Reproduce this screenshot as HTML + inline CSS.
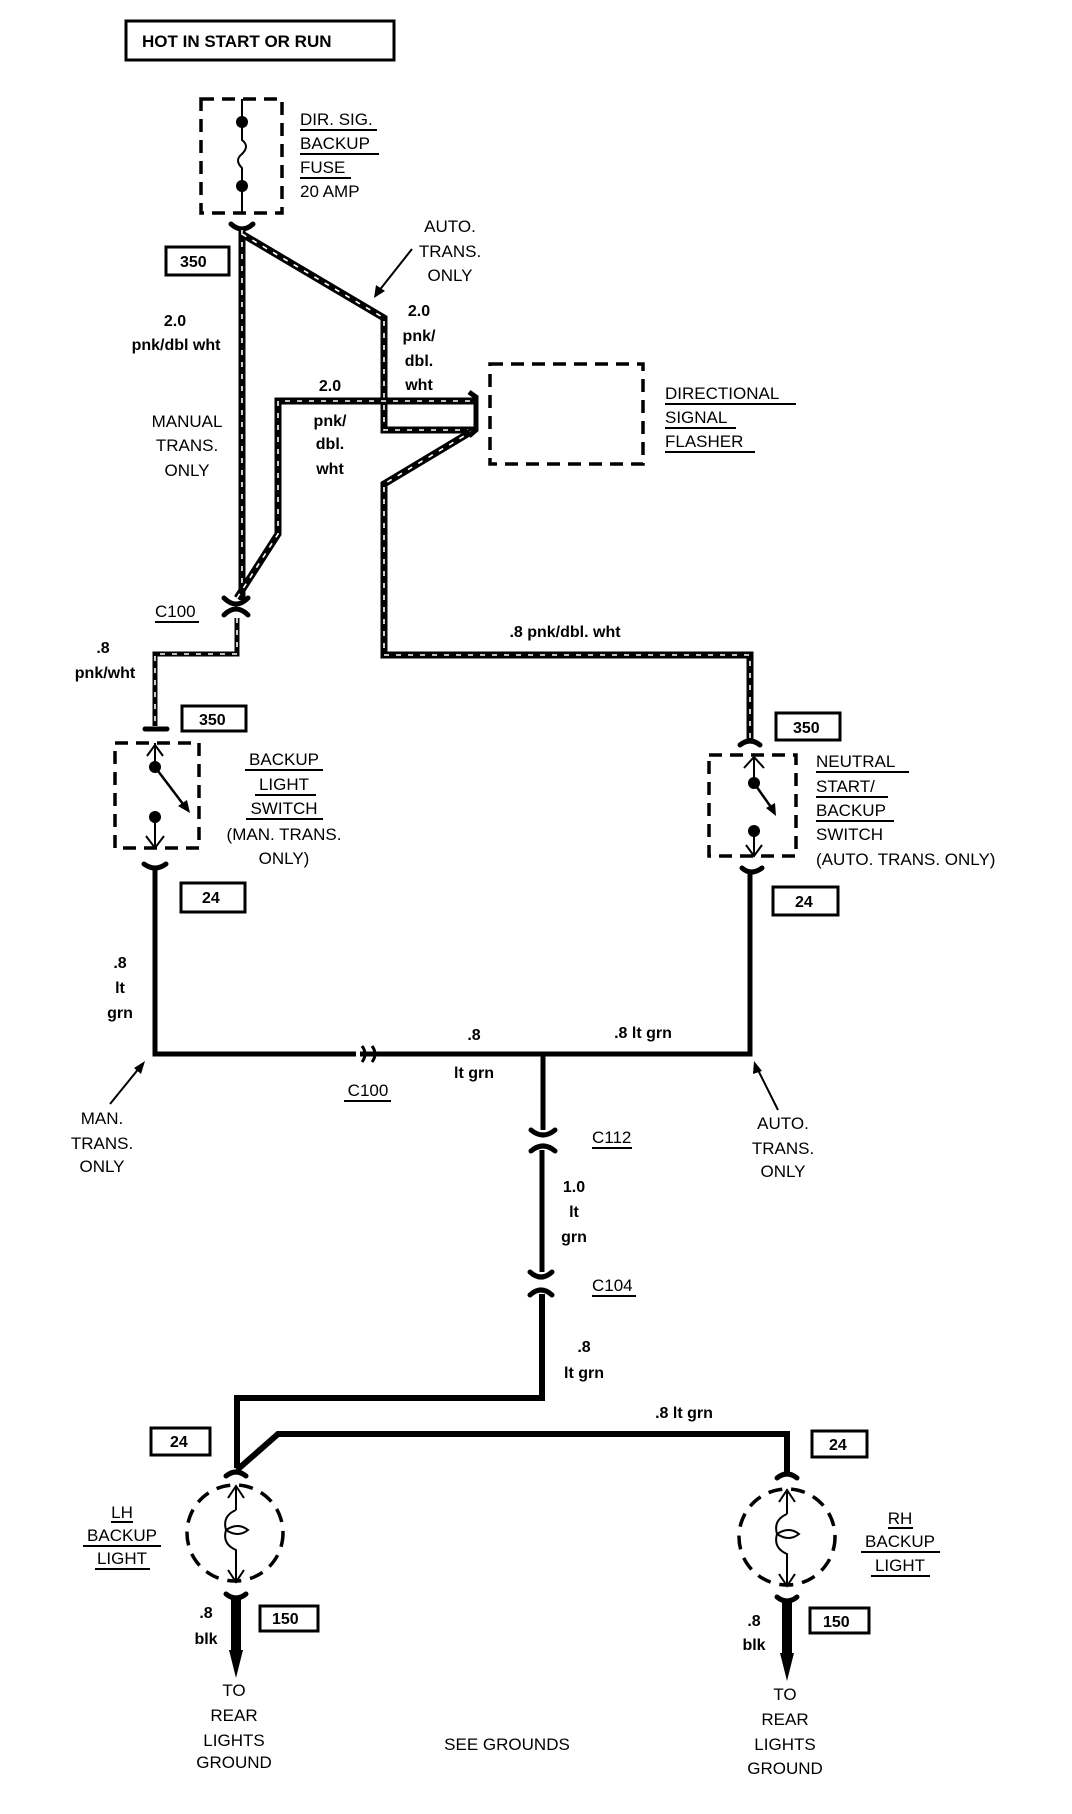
<!DOCTYPE html>
<html><head><meta charset="utf-8"><style>
html,body{margin:0;padding:0;background:#fff;}
svg{display:block;}
text{font-family:"Liberation Sans",sans-serif;font-size:17px;fill:#000;}
.b{font-weight:bold;font-size:16px;}
.h{fill:none;stroke:#000;stroke-width:7;stroke-linejoin:miter;}
.hw{fill:none;stroke:#fff;stroke-width:1.6;stroke-dasharray:5 7;}
.s{fill:none;stroke:#000;stroke-width:5;}
.d{fill:none;stroke:#000;stroke-width:3.5;stroke-dasharray:13 8;}
.u{stroke:#000;stroke-width:2;}
.c{fill:none;stroke:#000;stroke-width:5;stroke-linecap:round;}
.t{fill:none;stroke:#000;stroke-width:2;}
</style></head><body>
<svg width="1072" height="1814" viewBox="0 0 1072 1814" xmlns="http://www.w3.org/2000/svg">
<!-- title -->
<rect x="126" y="21" width="268" height="39" fill="none" stroke="#000" stroke-width="3"/>
<text x="142" y="47" class="b" style="font-size:17px">HOT IN START OR RUN</text>

<!-- fuse -->
<rect x="201" y="99" width="81" height="114" class="d"/>
<line x1="242" y1="99" x2="242" y2="120" class="t"/>
<circle cx="242" cy="122" r="6"/>
<path d="M242 122 V140 q8 6 0 14 q-8 6 0 14 V186" class="t"/>
<circle cx="242" cy="186" r="6"/>
<line x1="242" y1="186" x2="242" y2="213" class="t"/>
<text x="300" y="125">DIR. SIG.</text>
<text x="300" y="149">BACKUP</text>
<text x="300" y="173">FUSE</text>
<text x="300" y="197">20 AMP</text>
<line x1="300" y1="130" x2="377" y2="130" class="u"/>
<line x1="300" y1="154" x2="379" y2="154" class="u"/>
<line x1="300" y1="178" x2="351" y2="178" class="u"/>
<path d="M231 224 Q242 234 253 224" class="c"/>

<rect x="166" y="247" width="63" height="28" fill="none" stroke="#000" stroke-width="3"/>
<text x="180" y="267" class="b">350</text>

<!-- hatched wires -->
<g>
<path id="w1" d="M242 230 V600" class="h"/><path d="M242 230 V600" class="hw"/>
<path d="M242 234 L384 318 V430 H474" class="h"/><path d="M242 234 L384 318 V430 H474" class="hw"/>
<path d="M237 598 L278 534 V401 H474" class="h"/><path d="M237 598 L278 534 V401 H474" class="hw"/>
<path d="M474 430 L384 484 V655 H750 V742" class="h"/><path d="M474 430 L384 484 V655 H750 V742" class="hw"/>
<path d="M237 618 V654 H155 V726" class="h" style="stroke-width:5"/><path d="M237 618 V654 H155 V726" class="hw"/>
</g>
<!-- flasher connector -->
<path d="M469 392 L476 397 V430 L469 436" fill="none" stroke="#000" stroke-width="5"/>
<rect x="490" y="364" width="153" height="100" class="d"/>
<text x="665" y="399">DIRECTIONAL</text>
<text x="665" y="423">SIGNAL</text>
<text x="665" y="447">FLASHER</text>
<line x1="665" y1="404" x2="796" y2="404" class="u"/>
<line x1="665" y1="428" x2="736" y2="428" class="u"/>
<line x1="665" y1="452" x2="755" y2="452" class="u"/>

<text x="450" y="232" text-anchor="middle">AUTO.</text>
<text x="450" y="257" text-anchor="middle">TRANS.</text>
<text x="450" y="281" text-anchor="middle">ONLY</text>
<line x1="412" y1="249" x2="378" y2="292" class="t"/>
<polygon points="374,298 376,285 385,291" />

<text x="419" y="316" class="b" text-anchor="middle">2.0</text>
<text x="419" y="341" class="b" text-anchor="middle">pnk/</text>
<text x="419" y="366" class="b" text-anchor="middle">dbl.</text>
<text x="419" y="390" class="b" text-anchor="middle">wht</text>

<text x="175" y="326" class="b" text-anchor="middle">2.0</text>
<text x="176" y="350" class="b" text-anchor="middle">pnk/dbl wht</text>

<text x="187" y="427" text-anchor="middle">MANUAL</text>
<text x="187" y="451" text-anchor="middle">TRANS.</text>
<text x="187" y="476" text-anchor="middle">ONLY</text>

<text x="330" y="391" class="b" text-anchor="middle">2.0</text>
<text x="330" y="426" class="b" text-anchor="middle">pnk/</text>
<text x="330" y="449" class="b" text-anchor="middle">dbl.</text>
<text x="330" y="474" class="b" text-anchor="middle">wht</text>

<!-- C100 top -->
<path d="M224 598 Q236 610 248 598" class="c"/>
<path d="M224 615 Q236 603 248 615" class="c"/>
<text x="155" y="617">C100</text>
<line x1="155" y1="622" x2="199" y2="622" class="u"/>
<text x="103" y="653" class="b" text-anchor="middle">.8</text>
<text x="105" y="678" class="b" text-anchor="middle">pnk/wht</text>
<text x="565" y="637" class="b" text-anchor="middle">.8 pnk/dbl. wht</text>

<!-- backup light switch -->
<path d="M145 729 H167" class="c"/>
<rect x="182" y="706" width="64" height="25" fill="none" stroke="#000" stroke-width="3"/>
<text x="199" y="725" class="b">350</text>
<rect x="115" y="743" width="84" height="105" class="d"/>
<line x1="155" y1="743" x2="155" y2="768" class="t"/>
<path d="M147 756 L155 745 L163 756" class="t"/>
<circle cx="155" cy="767" r="6"/>
<line x1="155" y1="767" x2="186" y2="808" class="t" style="stroke-width:2.5"/>
<polygon points="190,813 178,806 187,800"/>
<circle cx="155" cy="817" r="6"/>
<line x1="155" y1="817" x2="155" y2="848" class="t"/>
<path d="M146 836 L155 848 L164 836" class="t"/>
<path d="M144 864 Q155 872 166 864" class="c"/>
<text x="284" y="765" text-anchor="middle">BACKUP</text>
<text x="284" y="790" text-anchor="middle">LIGHT</text>
<text x="284" y="814" text-anchor="middle">SWITCH</text>
<text x="284" y="840" text-anchor="middle">(MAN. TRANS.</text>
<text x="284" y="864" text-anchor="middle">ONLY)</text>
<line x1="245" y1="770" x2="323" y2="770" class="u"/>
<line x1="255" y1="795" x2="316" y2="795" class="u"/>
<line x1="246" y1="819" x2="323" y2="819" class="u"/>
<rect x="181" y="883" width="64" height="29" fill="none" stroke="#000" stroke-width="3"/>
<text x="202" y="903" class="b">24</text>

<!-- neutral start switch -->
<path d="M740 745 Q750 737 760 745" class="c"/>
<rect x="776" y="713" width="64" height="27" fill="none" stroke="#000" stroke-width="3"/>
<text x="793" y="733" class="b">350</text>
<rect x="709" y="755" width="87" height="101" class="d"/>
<line x1="754" y1="756" x2="754" y2="783" class="t"/>
<path d="M744 768 L754 757 L764 768" class="t"/>
<circle cx="754" cy="783" r="6"/>
<line x1="754" y1="783" x2="773" y2="810" class="t" style="stroke-width:2.5"/>
<polygon points="776,816 766,808 775,803"/>
<circle cx="754" cy="831" r="6"/>
<line x1="754" y1="831" x2="754" y2="856" class="t"/>
<path d="M746 845 L754 856 L762 845" class="t"/>
<path d="M742 868 Q751 876 762 868" class="c"/>
<text x="816" y="767">NEUTRAL</text>
<text x="816" y="792">START/</text>
<text x="816" y="816">BACKUP</text>
<text x="816" y="840">SWITCH</text>
<text x="816" y="865">(AUTO. TRANS. ONLY)</text>
<line x1="816" y1="772" x2="909" y2="772" class="u"/>
<line x1="816" y1="797" x2="888" y2="797" class="u"/>
<line x1="816" y1="821" x2="894" y2="821" class="u"/>
<rect x="773" y="887" width="65" height="28" fill="none" stroke="#000" stroke-width="3"/>
<text x="795" y="907" class="b">24</text>

<!-- lt grn wires -->
<path d="M155 866 V1054 H750 V870" class="s"/>
<path d="M362 1046 q6 8 0 16 M372 1046 q6 8 0 16" fill="none" stroke="#000" stroke-width="3"/>
<rect x="356" y="1049" width="4" height="10" fill="#fff"/>
<text x="368" y="1096" text-anchor="middle">C100</text>
<line x1="344" y1="1101" x2="391" y2="1101" class="u"/>
<text x="474" y="1040" class="b" text-anchor="middle">.8</text>
<text x="474" y="1078" class="b" text-anchor="middle">lt grn</text>
<text x="643" y="1038" class="b" text-anchor="middle">.8 lt grn</text>
<text x="120" y="968" class="b" text-anchor="middle">.8</text>
<text x="120" y="993" class="b" text-anchor="middle">lt</text>
<text x="120" y="1018" class="b" text-anchor="middle">grn</text>

<text x="102" y="1124" text-anchor="middle">MAN.</text>
<text x="102" y="1149" text-anchor="middle">TRANS.</text>
<text x="102" y="1172" text-anchor="middle">ONLY</text>
<line x1="110" y1="1104" x2="140" y2="1067" class="t"/>
<polygon points="145,1061 141,1074 134,1068"/>
<text x="783" y="1129" text-anchor="middle">AUTO.</text>
<text x="783" y="1154" text-anchor="middle">TRANS.</text>
<text x="783" y="1177" text-anchor="middle">ONLY</text>
<line x1="778" y1="1110" x2="757" y2="1068" class="t"/>
<polygon points="754,1061 762,1071 753,1074"/>

<path d="M543 1054 V1130" class="s"/>
<path d="M531 1130 Q543 1140 555 1130" class="c"/>
<path d="M531 1151 Q543 1141 555 1151" class="c"/>
<path d="M542 1150 V1272" class="s"/>
<text x="592" y="1143">C112</text>
<line x1="592" y1="1148" x2="632" y2="1148" class="u"/>
<text x="574" y="1192" class="b" text-anchor="middle">1.0</text>
<text x="574" y="1217" class="b" text-anchor="middle">lt</text>
<text x="574" y="1242" class="b" text-anchor="middle">grn</text>
<path d="M530 1272 Q541 1282 552 1272" class="c"/>
<path d="M530 1295 Q541 1285 552 1295" class="c"/>
<text x="592" y="1291">C104</text>
<line x1="592" y1="1296" x2="636" y2="1296" class="u"/>
<path d="M542 1294 V1398 H237 V1468" class="s" style="stroke-width:6"/>
<text x="584" y="1352" class="b" text-anchor="middle">.8</text>
<text x="584" y="1378" class="b" text-anchor="middle">lt grn</text>
<path d="M237 1470 L278 1434 H787 V1474" class="s" style="stroke-width:6"/>
<text x="684" y="1418" class="b" text-anchor="middle">.8 lt grn</text>

<rect x="151" y="1428" width="59" height="27" fill="none" stroke="#000" stroke-width="3"/>
<text x="170" y="1447" class="b">24</text>
<rect x="812" y="1431" width="55" height="26" fill="none" stroke="#000" stroke-width="3"/>
<text x="829" y="1450" class="b">24</text>

<!-- LH lamp -->
<path d="M226 1476 Q236 1468 246 1476" class="c"/>
<circle cx="235" cy="1533" r="48" class="d" style="stroke-dasharray:14 9"/>
<line x1="236" y1="1486" x2="236" y2="1510" class="t"/>
<path d="M228 1498 L236 1486 L244 1498" class="t"/>
<path d="M236 1510 q-14 6 -10 20 q12 8 22 0 q-10 -8 -22 0 q-4 14 10 20 V1580" class="t"/>
<path d="M228 1570 L236 1582 L244 1570" class="t"/>
<path d="M226 1594 Q236 1602 246 1594" class="c"/>
<path d="M236 1598 V1652" stroke="#000" stroke-width="10" fill="none"/>
<polygon points="229,1650 243,1650 236,1678"/>
<text x="122" y="1518" text-anchor="middle">LH</text>
<text x="122" y="1541" text-anchor="middle">BACKUP</text>
<text x="122" y="1564" text-anchor="middle">LIGHT</text>
<line x1="111" y1="1522" x2="133" y2="1522" class="u"/>
<line x1="83" y1="1546" x2="161" y2="1546" class="u"/>
<line x1="95" y1="1569" x2="150" y2="1569" class="u"/>
<text x="206" y="1618" class="b" text-anchor="middle">.8</text>
<text x="206" y="1644" class="b" text-anchor="middle">blk</text>
<rect x="260" y="1606" width="58" height="25" fill="none" stroke="#000" stroke-width="3"/>
<text x="272" y="1624" class="b">150</text>
<text x="234" y="1696" text-anchor="middle">TO</text>
<text x="234" y="1721" text-anchor="middle">REAR</text>
<text x="234" y="1746" text-anchor="middle">LIGHTS</text>
<text x="234" y="1768" text-anchor="middle">GROUND</text>

<text x="507" y="1750" text-anchor="middle">SEE GROUNDS</text>

<!-- RH lamp -->
<path d="M777 1478 Q787 1470 797 1478" class="c"/>
<circle cx="787" cy="1537" r="48" class="d" style="stroke-dasharray:14 9"/>
<line x1="787" y1="1490" x2="787" y2="1514" class="t"/>
<path d="M779 1502 L787 1490 L795 1502" class="t"/>
<path d="M787 1514 q-14 6 -10 20 q12 8 22 0 q-10 -8 -22 0 q-4 14 10 20 V1584" class="t"/>
<path d="M779 1574 L787 1586 L795 1574" class="t"/>
<path d="M777 1597 Q787 1605 797 1597" class="c"/>
<path d="M787 1600 V1655" stroke="#000" stroke-width="10" fill="none"/>
<polygon points="780,1653 794,1653 787,1681"/>
<text x="900" y="1524" text-anchor="middle">RH</text>
<text x="900" y="1547" text-anchor="middle">BACKUP</text>
<text x="900" y="1571" text-anchor="middle">LIGHT</text>
<line x1="888" y1="1528" x2="913" y2="1528" class="u"/>
<line x1="861" y1="1552" x2="940" y2="1552" class="u"/>
<line x1="871" y1="1576" x2="930" y2="1576" class="u"/>
<text x="754" y="1626" class="b" text-anchor="middle">.8</text>
<text x="754" y="1650" class="b" text-anchor="middle">blk</text>
<rect x="810" y="1608" width="59" height="25" fill="none" stroke="#000" stroke-width="3"/>
<text x="823" y="1627" class="b">150</text>
<text x="785" y="1700" text-anchor="middle">TO</text>
<text x="785" y="1725" text-anchor="middle">REAR</text>
<text x="785" y="1750" text-anchor="middle">LIGHTS</text>
<text x="785" y="1774" text-anchor="middle">GROUND</text>
</svg>
</body></html>
